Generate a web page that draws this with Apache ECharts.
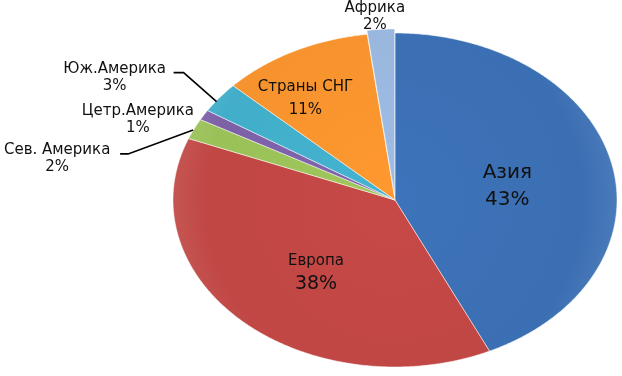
<!DOCTYPE html>
<html>
<head>
<meta charset="utf-8">
<script src="https://cdn.jsdelivr.net/npm/echarts@6/dist/echarts.min.js"></script>
<style>
  html, body { margin: 0; background: #fff; }
  #chart { width: 622px; height: 376px; }
</style>
</head>
<body>
<div id="chart"></div>
<script>
// shares in percent, clockwise from 12 o'clock
var regions = ["Азия", "Европа", "Сев. Америка", "Цетр.Америка", "Юж.Америка", "Страны СНГ", "Африка"];
var shares = [43, 38, 2, 1, 3, 11, 2];
var pctLabels = ["43%", "38%", "2%", "1%", "3%", "11%", "2%"];

var colors = ["#3b6fb3", "#c04744", "#9ac158", "#7d61a7", "#42aec9", "#f6932e", "#99b6dd"];

// label placement: r = fraction of radius on the mid angle, dx/dy nudge,
// nf/pf = font size of name / percent, lh = line height, line = leader offsets from rim point
var labelLayout = [
  { r: 0.5, dx: 4, dy: 5, nf: 20, pf: 20, lh: 27 },
  { r: 0.5, dx: -3, dy: 12, nf: 15, pf: 19, lh: 23 },
  { r: 1, dx: -137, dy: 30, nf: 15, pf: 15, lh: 17, line: [[-74, 25], [-66, 25], [-1, 1]] },
  { r: 1, dx: -66, dy: 5, nf: 15, pf: 15, lh: 17 },
  { r: 1, dx: -105, dy: -20, nf: 15, pf: 15, lh: 17, line: [[-46, -25], [-36, -25], [-3, 4]] },
  { r: 0.7, dx: -19, dy: 3, nf: 15, pf: 15, lh: 23 },
  { r: 1, dx: -6, dy: -13, nf: 15, pf: 15, lh: 17 }
];
var explode = [0, 0, 0, 0, 0, 0, 4];

var total = 0, starts = [];
for (var i = 0; i < shares.length; i++) {
  starts.push(total);
  total += shares[i];
}
var data = [];
for (var i = 0; i < shares.length; i++) data.push([shares[i], starts[i]]);

var cx = 395, cy = 200, rx = 222, ry = 167;

function renderSlice(params, api) {
  var i = params.dataIndex;
  var v = api.value(0), start = api.value(1);
  var a0 = (start / total) * 2 * Math.PI,
    a1 = ((start + v) / total) * 2 * Math.PI,
    am = (a0 + a1) / 2;
  var ox = cx + explode[i] * Math.sin(am),
    oy = cy - explode[i] * Math.cos(am);
  var pts = [[ox, oy]];
  var n = Math.max(4, Math.ceil((a1 - a0) / 0.01));
  for (var k = 0; k <= n; k++) {
    var a = a0 + ((a1 - a0) * k) / n;
    pts.push([ox + rx * Math.sin(a), oy - ry * Math.cos(a)]);
  }
  var c = colors[i];
  var fill = new echarts.graphic.RadialGradient(ox, oy, rx, [
    { offset: 0, color: echarts.color.lift(c, -0.04) },
    { offset: 0.85, color: c },
    { offset: 1, color: echarts.color.lift(c, 0.08) }
  ], true);
  var children = [{
    type: "polygon",
    shape: { points: pts },
    style: { fill: fill, stroke: "rgba(255,255,255,0.5)", lineWidth: 1 }
  }];

  var L = labelLayout[i];
  var ex = ox + rx * Math.sin(am), ey = oy - ry * Math.cos(am);
  var lx = ox + L.r * rx * Math.sin(am) + L.dx,
    ly = oy - L.r * ry * Math.cos(am) + L.dy;
  if (L.line) {
    var lp = [];
    for (var k = 0; k < L.line.length; k++) lp.push([ex + L.line[k][0], ey + L.line[k][1]]);
    children.push({
      type: "polyline",
      shape: { points: lp },
      style: { stroke: "#000", lineWidth: 1.6, fill: null }
    });
  }
  children.push({
    type: "text",
    x: lx,
    y: ly,
    style: {
      text: "{n|" + regions[i] + "}\n{p|" + pctLabels[i] + "}",
      align: "center",
      verticalAlign: "middle",
      rich: {
        n: { fontSize: L.nf, lineHeight: L.lh, fontFamily: "DejaVu Sans", fill: "#111" },
        p: { fontSize: L.pf, lineHeight: L.lh, fontFamily: "DejaVu Sans", fill: "#111" }
      }
    }
  });
  return { type: "group", children: children };
}

var myChart = echarts.init(document.getElementById("chart"));
var option = {
  animation: false,
  series: [
    {
      type: "custom",
      coordinateSystem: "none",
      renderItem: renderSlice,
      data: data
    }
  ]
};
myChart.setOption(option);
window.addEventListener("resize", function () {
  myChart.resize();
});
</script>
</body>
</html>
